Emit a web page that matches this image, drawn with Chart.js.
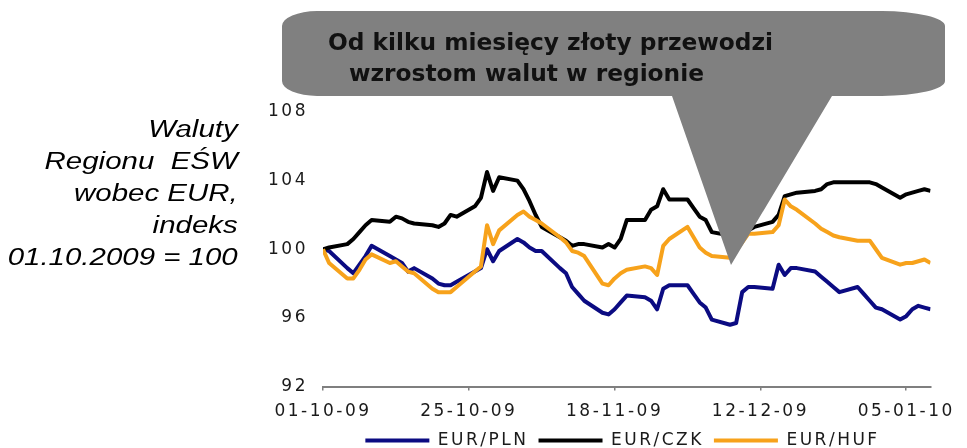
<!DOCTYPE html>
<html lang="pl">
<head>
<meta charset="utf-8">
<title>Waluty Regionu EŚW wobec EUR</title>
<script src="https://cdn.jsdelivr.net/npm/chart.js@4.4.1/dist/chart.umd.min.js"></script>
<style>
  html, body { margin: 0; padding: 0; background: #fff; overflow: hidden; width: 967px; height: 448px; }
  #wrap { position: absolute; left: 0; top: 0; width: 967px; height: 459px; }
  #side {
    position: absolute; right: 729px; top: 112.7px;
    font: italic 23px 'Liberation Sans', Arial, sans-serif; line-height: 32px;
    color: #000; text-align: right; white-space: pre;
    transform: scaleX(1.28); transform-origin: right top;
  }
  #bubble { position: absolute; left: 0; top: 0; width: 967px; height: 448px; pointer-events: none; }
</style>
</head>
<body>
<div id="wrap"><canvas id="fx" width="967" height="459"></canvas></div>
<div id="side">Waluty
Regionu  EŚW
wobec EUR,
indeks
01.10.2009 = 100</div>
<svg id="bubble" viewBox="0 0 967 448" xmlns="http://www.w3.org/2000/svg">
  <path d="M 317 11 H 882 A 63 15 0 0 1 945 26 V 81 A 63 15 0 0 1 882 96 H 832 L 731 265 L 672 96 H 317 A 35 15 0 0 1 282 81 V 26 A 35 15 0 0 1 317 11 Z" fill="#808080"/>
  <text x="328" y="50" font-family="DejaVu Sans" font-weight="bold" font-size="23.3" fill="#111">Od kilku miesięcy złoty przewodzi</text>
  <text x="349" y="81" font-family="DejaVu Sans" font-weight="bold" font-size="23.3" fill="#111">wzrostom walut w regionie</text>
</svg>
<script>
// Calendar-day offsets from 01-10-2009 (trading days)
const days = [0, 1, 4, 5, 6, 7, 8, 11, 12, 13, 14, 15, 18, 19, 20, 21, 22, 25, 26, 27, 28, 29,
  32, 33, 34, 35, 36, 39, 40, 41, 42, 43, 46, 47, 48, 49, 50, 53, 54, 55, 56, 57,
  60, 61, 62, 63, 64, 67, 68, 69, 70, 71, 74, 75, 76, 77, 78, 81, 82, 83, 84, 85,
  88, 89, 90, 91, 92, 95, 96, 97, 98, 99, 100];

// Axis labels every 24 days
const tickDays = [0, 24, 48, 72, 96];
const tickLabels = ['01-10-09', '25-10-09', '18-11-09', '12-12-09', '05-01-10'];

// Index, 01.10.2009 = 100
const eurPln = [100.0, 99.9, 98.9, 98.6, 99.1, 99.6, 100.2, 99.6, 99.4, 99.2, 98.7, 98.9,
  98.3, 98.0, 97.9, 97.9, 98.1, 98.7, 98.9, 100.0, 99.3, 99.9,
  100.6, 100.4, 100.1, 99.9, 99.9, 98.9, 98.6, 97.8, 97.4, 97.0,
  96.3, 96.2, 96.5, 96.9, 97.3, 97.2, 97.0, 96.5, 97.7, 97.9,
  97.9, 97.4, 96.9, 96.6, 95.9, 95.6, 95.7, 97.5, 97.8, 97.8,
  97.7, 99.1, 98.5, 98.9, 98.9, 98.7, 98.4, 98.1, 97.8, 97.5,
  97.8, 97.4, 97.0, 96.6, 96.5, 95.9, 96.1, 96.5, 96.7, 96.6, 96.5];

const eurCzk = [100.0, 100.1, 100.3, 100.6, 101.0, 101.4, 101.7, 101.6, 101.9, 101.8, 101.6, 101.5,
  101.4, 101.3, 101.5, 102.0, 101.9, 102.5, 103.0, 104.5, 103.4, 104.2,
  104.0, 103.5, 102.8, 102.0, 101.3, 100.7, 100.5, 100.2, 100.3, 100.3,
  100.1, 100.3, 100.1, 100.6, 101.7, 101.7, 102.3, 102.5, 103.5, 102.9,
  102.9, 102.4, 101.9, 101.7, 101.0, 100.8, 100.8, 100.9, 101.1, 101.3,
  101.6, 102.0, 103.1, 103.2, 103.3, 103.4, 103.5, 103.8, 103.9, 103.9,
  103.9, 103.9, 103.9, 103.8, 103.6, 103.0, 103.2, 103.3, 103.4, 103.5, 103.4];

const eurHuf = [100.0, 99.2, 98.3, 98.3, 98.8, 99.4, 99.7, 99.2, 99.3, 99.0, 98.7, 98.6,
  97.7, 97.5, 97.5, 97.5, 97.8, 98.7, 99.0, 101.4, 100.3, 101.1,
  102.0, 102.2, 101.9, 101.7, 101.5, 100.7, 100.4, 99.9, 99.8, 99.6,
  98.0, 97.9, 98.3, 98.6, 98.8, 99.0, 98.9, 98.5, 100.2, 100.6,
  101.3, 100.7, 100.1, 99.8, 99.6, 99.5, 99.9, 100.4, 100.9, 100.9,
  101.0, 101.4, 102.9, 102.5, 102.3, 101.5, 101.2, 101.0, 100.8, 100.7,
  100.5, 100.5, 100.5, 100.0, 99.5, 99.1, 99.2, 99.2, 99.3, 99.4, 99.2];

const seriesNames = ['EUR/PLN', 'EUR/CZK', 'EUR/HUF'];
const seriesColors = ['#0b0b82', '#000000', '#f7a21b'];

const toPoints = vals => vals.map((v, i) => ({ x: days[i], y: v }));

// Wide lettering for all canvas text
const wideText = {
  id: 'wideText',
  beforeUpdate(chart) { chart.ctx.letterSpacing = '2.5px'; },
  beforeLayout(chart) { chart.ctx.letterSpacing = '2.5px'; },
  beforeDraw(chart) { chart.ctx.letterSpacing = '2.5px'; }
};

// Legend sits a little right of the plot centre
const legendNudge = {
  id: 'legendNudge',
  afterLayout(chart) {
    const leg = chart.legend;
    if (leg) { leg.left += 20; leg.right += 20; }
  }
};

const labelFont = { family: "'DejaVu Sans', Verdana, sans-serif", size: 17 };
const axisGray = '#7f7f7f';

const series = [eurPln, eurCzk, eurHuf];

new Chart(document.getElementById('fx'), {
  type: 'line',
  data: {
    datasets: series.map((vals, i) => ({
      label: seriesNames[i],
      data: toPoints(vals),
      borderColor: seriesColors[i],
      backgroundColor: seriesColors[i],
      borderWidth: 4,
      pointRadius: 0,
      borderJoinStyle: 'round',
      borderCapStyle: 'butt',
      tension: 0,
      order: 3 - i
    }))
  },
  options: {
    responsive: false,
    animation: false,
    devicePixelRatio: 1,
    layout: { padding: { left: 268, right: 30, top: 112, bottom: 0 } },
    scales: {
      x: {
        type: 'linear',
        min: 0,
        max: 100,
        afterBuildTicks: s => { s.ticks = tickDays.map(v => ({ value: v })); },
        afterFit: s => { s.height = 35.5; },
        ticks: {
          autoSkip: false, maxRotation: 0, padding: 11, color: '#1a1a1a', font: labelFont,
          callback: v => { const k = tickDays.indexOf(v); return k >= 0 ? tickLabels[k] : ''; }
        },
        grid: { drawOnChartArea: false, drawTicks: true, tickLength: 4, color: axisGray, lineWidth: 1.5 },
        border: { display: true, color: axisGray, width: 2 }
      },
      y: {
        min: 92,
        max: 108,
        afterFit: s => { s.width = 55; },
        ticks: { stepSize: 4, padding: 15, color: '#1a1a1a', font: labelFont },
        grid: { display: false, drawTicks: false },
        border: { display: false }
      }
    },
    plugins: {
      legend: {
        position: 'bottom',
        labels: {
          usePointStyle: true, pointStyle: 'line', pointStyleWidth: 64,
          padding: 10, color: '#1a1a1a', font: labelFont,
          sort: (a, b) => a.datasetIndex - b.datasetIndex
        }
      },
      tooltip: { enabled: false }
    }
  },
  plugins: [wideText, legendNudge]
});
</script>
</body>
</html>
